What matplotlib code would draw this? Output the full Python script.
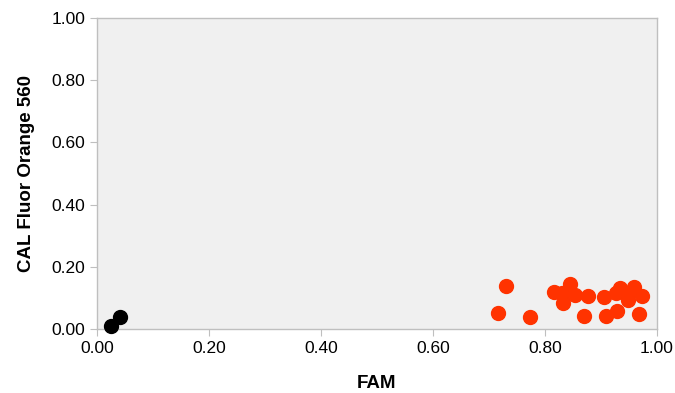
import matplotlib
matplotlib.use("Agg")
import matplotlib.pyplot as plt

plt.rcParams['font.family'] = ['Liberation Sans', 'DejaVu Sans']

black_x = [0.025, 0.041]
black_y = [0.010, 0.039]

red_x = [0.730, 0.717, 0.774, 0.816, 0.832, 0.830, 0.845, 0.854, 0.877, 0.870,
         0.906, 0.909, 0.929, 0.927, 0.935, 0.946, 0.949, 0.959, 0.974, 0.968]
red_y = [0.139, 0.052, 0.038, 0.118, 0.083, 0.115, 0.145, 0.109, 0.106, 0.043,
         0.104, 0.043, 0.059, 0.115, 0.131, 0.113, 0.093, 0.136, 0.106, 0.048]

ticks = [0.0, 0.2, 0.4, 0.6, 0.8, 1.0]
tick_labels = ["0.00", "0.20", "0.40", "0.60", "0.80", "1.00"]

fig = plt.figure(figsize=(6.75, 3.93), dpi=100)
ax = fig.add_axes([0.1437, 0.163, 0.8293, 0.791])
ax.set_facecolor('#f0f0f0')
ax.scatter(black_x, black_y, s=100, color='black', zorder=3, clip_on=False)
ax.scatter(red_x, red_y, s=100, color='#ff3300', zorder=3, clip_on=False)
ax.set_xlim(0, 1)
ax.set_ylim(0, 1)
ax.set_xticks(ticks)
ax.set_xticklabels(tick_labels)
ax.set_yticks(ticks)
ax.set_yticklabels(tick_labels)
for s in ax.spines.values():
    s.set_color('#bfbfbf')
    s.set_linewidth(1)
ax.tick_params(axis='both', colors='#bfbfbf', labelcolor='black', labelsize=12.5, length=5, direction='out')
ax.set_xlabel('FAM', fontsize=13.5, fontweight='bold', labelpad=14)
ax.set_ylabel('CAL Fluor Orange 560', fontsize=13.5, fontweight='bold', labelpad=12)
fig.savefig('out.png', dpi=100)
